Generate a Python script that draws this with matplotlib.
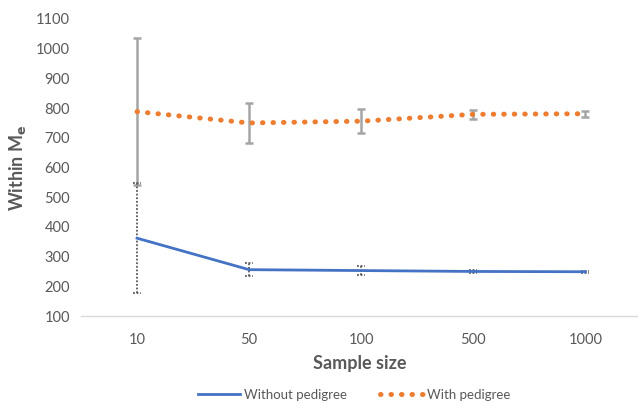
import matplotlib
matplotlib.use("Agg")
import matplotlib.pyplot as plt

categories = ["10", "50", "100", "500", "1000"]
without_ped = [362, 256, 253, 250, 249]
without_err = [186, 23, 15, 5, 4]
with_ped = [788, 750, 756, 779, 781]
with_err = [248, 66, 40, 16, 10]

plt.rcParams['font.family'] = ['Lato', 'DejaVu Sans']

fig = plt.figure(figsize=(6.38, 4.04), dpi=100)
ax = fig.add_axes([81/638, 88/404, 557/638, 297/404])

x = list(range(len(categories)))
ax.errorbar(x, with_ped, yerr=with_err, fmt='none', ecolor='#a5a5a5',
            elinewidth=1.8, capsize=3, capthick=1.8, zorder=2)
ax.plot(x, with_ped, color='#ed7d31', linestyle=(0, (0.1, 2.0)), linewidth=3.6,
        dash_capstyle='round', label='With pedigree', zorder=3)
eb = ax.errorbar(x, without_ped, yerr=without_err, fmt='none', ecolor='#595959',
                 elinewidth=1.3, capsize=0, zorder=2)
for c in eb[2]:
    c.set_linestyle((0, (1, 1)))
lo = [v - e for v, e in zip(without_ped, without_err)]
hi = [v + e for v, e in zip(without_ped, without_err)]
for xi, a, b in zip(x, lo, hi):
    ax.hlines([a, b], xi - 0.035, xi + 0.035, colors='#595959', linewidth=1.3,
              linestyles=[(0, (1, 1))], zorder=2)
ax.plot(x, without_ped, color='#4472c4', linewidth=2.0, label='Without pedigree', zorder=3)

ax.set_xlim(-0.5, 4.47)
ax.set_ylim(100, 1100)
ax.set_yticks(range(100, 1101, 100))
ax.set_xticks(x)
ax.set_xticklabels(categories)

for s in ['top', 'right', 'left']:
    ax.spines[s].set_visible(False)
ax.spines['bottom'].set_color('#d9d9d9')
ax.spines['bottom'].set_linewidth(1.0)
ax.tick_params(axis='both', length=0, labelsize=10.5, labelcolor='#595959', pad=8)
ax.tick_params(axis='x', pad=12)

ax.set_xlabel('Sample size', fontsize=13, fontweight='bold', color='#595959', labelpad=6)
ax.set_ylabel('Within M$_\\mathbf{e}$', fontsize=13, fontweight='bold', color='#595959', labelpad=6)

handles, labels = ax.get_legend_handles_labels()
leg = fig.legend([handles[1], handles[0]], [labels[1], labels[0]], loc='center',
                 bbox_to_anchor=(0.555, 1 - 395/404), ncol=2, frameon=False,
                 fontsize=9.5, handlelength=3.2, columnspacing=2.5, handletextpad=0.3)
for t in leg.get_texts():
    t.set_color('#595959')

fig.savefig('out.png', dpi=100)
